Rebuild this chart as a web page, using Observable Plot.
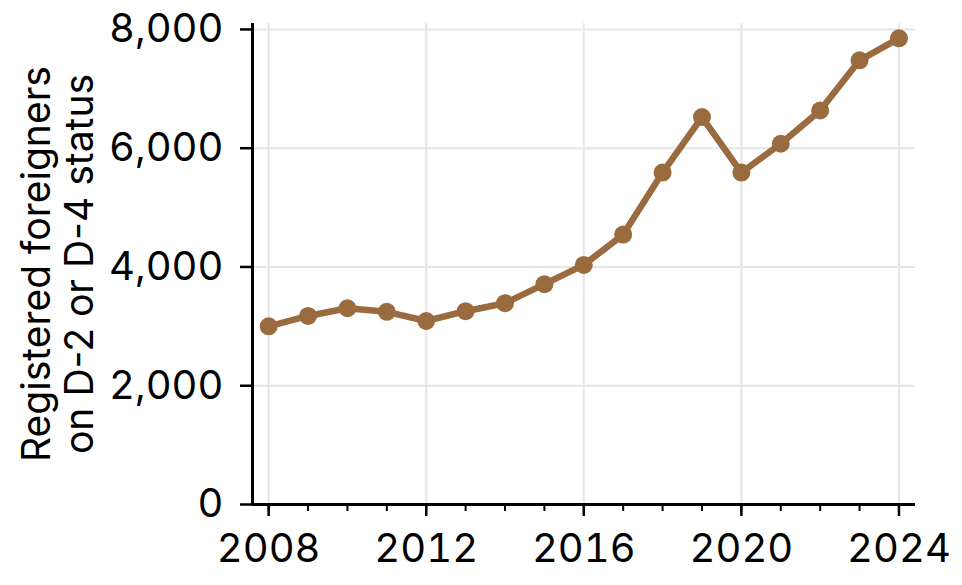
<!DOCTYPE html>
<html>
<head>
<meta charset="utf-8">
<script src="https://cdn.jsdelivr.net/npm/d3@7"></script>
<script src="https://cdn.jsdelivr.net/npm/@observablehq/plot@0.6"></script>
<style>
  html, body { margin: 0; padding: 0; background: #fff; }
  #chart svg { display: block; }
</style>
</head>
<body>
<div id="chart"></div>
<script>
const years = [2008, 2009, 2010, 2011, 2012, 2013, 2014, 2015, 2016, 2017, 2018, 2019, 2020, 2021, 2022, 2023, 2024];
const registered = [3000, 3175, 3305, 3245, 3090, 3255, 3390, 3710, 4035, 4545, 5590, 6525, 5590, 6075, 6635, 7480, 7850];
const xTickLabels = [2008, 2012, 2016, 2020, 2024];
const yTickValues = [0, 2000, 4000, 6000, 8000];
const yLabel = "Registered foreigners\non D-2 or D-4 status";

const data = years.map((year, i) => ({year, value: registered[i]}));
const xDomain = [2007.59, 2024.42];
const yDomain = [0, 8100];
const color = "#996b3f";
const font = "Inter, 'Noto Sans', sans-serif";

const chart = Plot.plot({
  width: 962,
  height: 585,
  marginLeft: 252,
  marginRight: 47,
  marginTop: 23,
  marginBottom: 81,
  style: {fontFamily: font, fontSize: "40px", color: "#000", background: "#fff"},
  x: {type: "linear", domain: xDomain, axis: null},
  y: {type: "linear", domain: yDomain, axis: null},
  marks: [
    Plot.gridX(xTickLabels, {stroke: "#e6e6e6", strokeOpacity: 1, strokeWidth: 2}),
    Plot.gridY(yTickValues, {stroke: "#e6e6e6", strokeOpacity: 1, strokeWidth: 2}),
    Plot.axisX(years, {tickSize: 7, text: null, label: null, strokeWidth: 2, stroke: "#000"}),
    Plot.axisX(xTickLabels, {tickSize: 12, tickPadding: 17, tickFormat: d => String(d), strokeWidth: 2.5, stroke: "#000", fontSize: 40, label: null}),
    Plot.axisY(yTickValues, {tickSize: 12, tickPadding: 17, tickFormat: d3.format(","), strokeWidth: 2.5, stroke: "#000", fontSize: 40, label: null}),
    Plot.ruleY([0], {x1: xDomain[0], x2: xDomain[1], stroke: "#000", strokeWidth: 3}),
    Plot.ruleX([xDomain[0]], {y1: yDomain[0], y2: yDomain[1], stroke: "#000", strokeWidth: 3}),
    Plot.line(data, {x: "year", y: "value", stroke: color, strokeWidth: 6.5}),
    Plot.dot(data, {x: "year", y: "value", fill: color, r: 9}),
    Plot.text([yLabel], {frameAnchor: "left", dx: -195, rotate: -90, fontSize: 39, lineHeight: 1.1, textAnchor: "middle", fill: "#000"})
  ]
});
document.getElementById("chart").append(chart);
</script>
</body>
</html>
